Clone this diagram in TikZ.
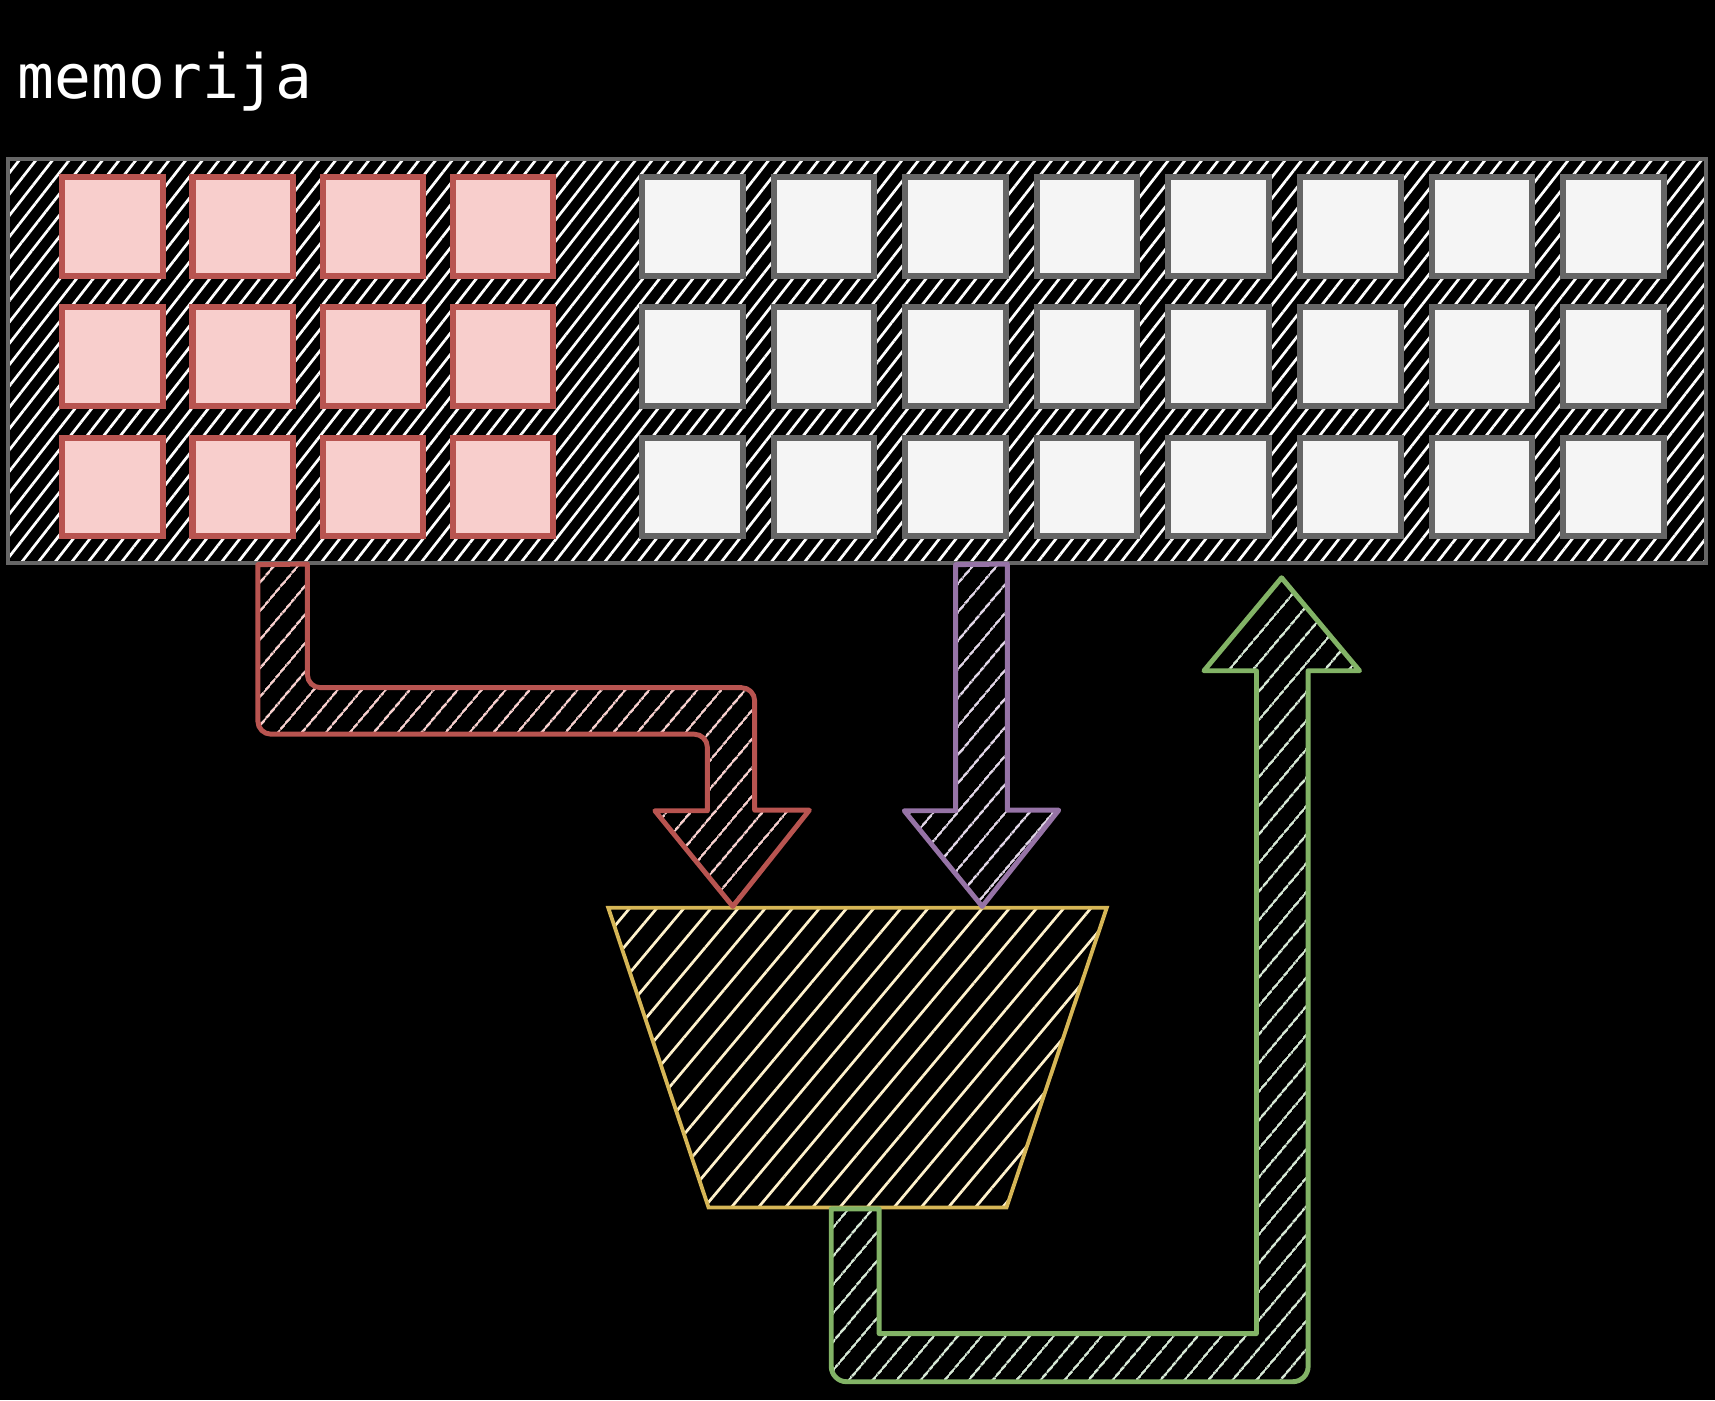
\documentclass[tikz,border=0pt]{standalone}
\usepackage{fontspec}
\setmonofont{DejaVu Sans Mono}
\usetikzlibrary{positioning, calc, shapes.geometric, patterns.meta}

\definecolor{redline}{HTML}{B85450}
\definecolor{redfill}{HTML}{F8CECC}
\definecolor{greyline}{HTML}{666666}
\definecolor{greyfill}{HTML}{F5F5F5}
\definecolor{violetline}{HTML}{9673A6}
\definecolor{violetfill}{HTML}{E1D5E7}
\definecolor{yellowline}{HTML}{D6B656}
\definecolor{yellowfill}{HTML}{FFF2CC}
\definecolor{greenline}{HTML}{82B366}
\definecolor{greenfill}{HTML}{D5E8D4}

\begin{document}
\begin{tikzpicture}[x=1pt, y=-1pt,
        memtitle/.style={text=white, inner sep=0pt, font=\ttfamily\fontsize{56}{60}\selectfont},
        memory/.style={rectangle, draw=greyline, line width=3.5pt, minimum width=1553pt, minimum height=370pt,
            pattern={Lines[angle=52, distance=12pt, line width=2.5pt]}, pattern color=white},
        redcell/.style={rectangle, draw=redline, fill=redfill, line width=5.5pt, minimum width=92pt, minimum height=90pt},
        greycell/.style={rectangle, draw=greyline, fill=greyfill, line width=5.5pt, minimum width=92pt, minimum height=90pt},
        alu/.style={trapezium, shape border rotate=180, trapezium stretches=true, trapezium angle=71.4,
            minimum width=456pt, minimum height=274pt, draw=yellowline, line width=3.5pt,
            pattern={Lines[angle=50, distance=19pt, line width=2.5pt]}, pattern color=yellowfill},
        bus/.style={line width=4.5pt, line join=round,
            pattern={Lines[angle=50, distance=17pt, line width=2pt]}}
    ]
        \fill[black] (0,0) rectangle (1568,1280);
        \useasboundingbox (0,0) rectangle (1568,1280);

        % memorija
        \node[memtitle, anchor=base west] (title) at (16,90) {memorija};
        \node[memory] (mem) at (783.5,330) {};

        % celije
        \foreach \r in {0,1,2} {
            \foreach \c in {0,...,3}
                \node[redcell] (red\r\c) at ({103+119*\c},{207+119*\r}) {};
            \foreach \c in {0,...,7}
                \node[greycell] (grey\r\c) at ({633+120.3*\c},{207+119*\r}) {};
        }

        % ALU
        \node[alu] (alu) at (784,967) {};

        \coordinate (rin) at ($(mem.south west)+(252,0)$);
        \coordinate (vin) at ($(mem.south west)+(891,0)$);
        \coordinate (gtip) at ($(mem.south west)+(1166,12)$);
        \coordinate (rtip) at ($(alu.north)+(-114,0)$);
        \coordinate (vtip) at ($(alu.north)+(114,0)$);

        % strelice
        \draw[bus, draw=redline, pattern color=redfill] (rin) ++(-22,0) [rounded corners=12pt] -- ++(0,155) -- ++(411,0)
            [sharp corners] -- ++(0,70) -- ++(-48,0) -- (rtip) -- ++(70,-88) -- ++(-50,0)
            [rounded corners=12pt] -- ++(0,-112) -- ++(-409,0) [sharp corners] -- ++(0,-113) -- cycle;
        \draw[bus, draw=violetline, pattern color=violetfill] (vin) ++(-23,0) -- ++(0,225) -- ++(-47,0)
            -- (vtip) -- ++(70,-88) -- ++(-47,0) -- ++(0,-225) -- cycle;
        \draw[bus, draw=greenline, pattern color=greenfill] (alu.south) ++(-24,0) [rounded corners=14pt] -- ++(0,158)
            -- ++(436,0) [sharp corners] -- ++(0,-650) -- ++(47,0) -- (gtip) -- ++(-71,85) -- ++(48,0)
            -- ++(0,606) -- ++(-345,0) -- ++(0,-114) -- cycle;
    \end{tikzpicture}
\end{document}
